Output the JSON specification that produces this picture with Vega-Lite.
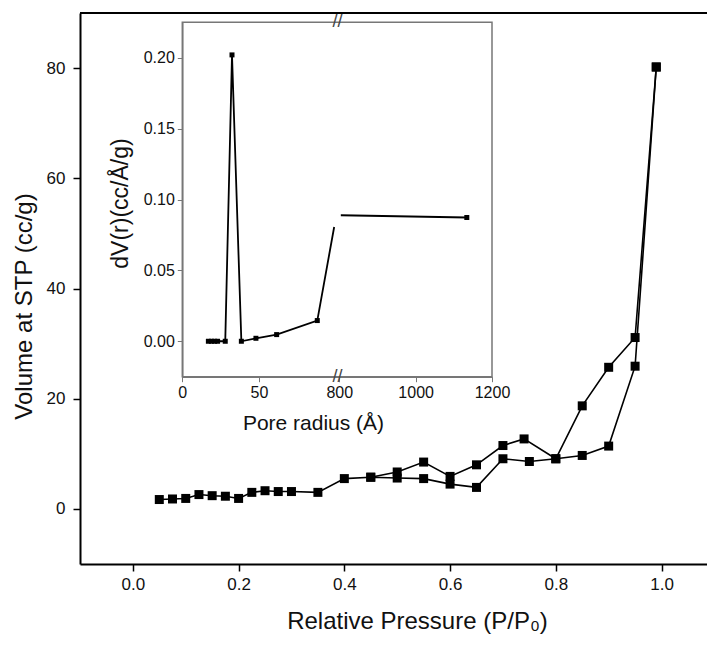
{
  "$schema": "https://vega.github.io/schema/vega-lite/v6.json",
  "width": 627,
  "height": 551,
  "autosize": {"type": "none"},
  "padding": {"left": 80, "top": 13, "right": 0, "bottom": 83},
  "background": "white",
  "config": {
    "view": {"stroke": null},
    "font": "Liberation Sans",
    "axis": {"labelFont": "Liberation Sans", "titleFont": "Liberation Sans", "grid": false, "titleFontWeight": "normal", "labelColor": "#111", "titleColor": "#111", "labelFlush": false}
  },
  "datasets": {
    "iso": [
      {"p": 0.05, "v": 1.7, "branch": "adsorption"},
      {"p": 0.075, "v": 1.8, "branch": "adsorption"},
      {"p": 0.1, "v": 1.9, "branch": "adsorption"},
      {"p": 0.125, "v": 2.6, "branch": "adsorption"},
      {"p": 0.15, "v": 2.4, "branch": "adsorption"},
      {"p": 0.175, "v": 2.3, "branch": "adsorption"},
      {"p": 0.2, "v": 1.9, "branch": "adsorption"},
      {"p": 0.225, "v": 3.0, "branch": "adsorption"},
      {"p": 0.25, "v": 3.3, "branch": "adsorption"},
      {"p": 0.275, "v": 3.15, "branch": "adsorption"},
      {"p": 0.3, "v": 3.15, "branch": "adsorption"},
      {"p": 0.35, "v": 3.0, "branch": "adsorption"},
      {"p": 0.4, "v": 5.5, "branch": "adsorption"},
      {"p": 0.45, "v": 5.75, "branch": "adsorption"},
      {"p": 0.5, "v": 5.6, "branch": "adsorption"},
      {"p": 0.55, "v": 5.5, "branch": "adsorption"},
      {"p": 0.6, "v": 4.5, "branch": "adsorption"},
      {"p": 0.65, "v": 3.9, "branch": "adsorption"},
      {"p": 0.7, "v": 9.1, "branch": "adsorption"},
      {"p": 0.75, "v": 8.6, "branch": "adsorption"},
      {"p": 0.8, "v": 9.1, "branch": "adsorption"},
      {"p": 0.85, "v": 9.7, "branch": "adsorption"},
      {"p": 0.9, "v": 11.4, "branch": "adsorption"},
      {"p": 0.95, "v": 25.9, "branch": "adsorption"},
      {"p": 0.99, "v": 80.2, "branch": "adsorption"},
      {"p": 0.45, "v": 5.75, "branch": "desorption"},
      {"p": 0.5, "v": 6.7, "branch": "desorption"},
      {"p": 0.55, "v": 8.5, "branch": "desorption"},
      {"p": 0.6, "v": 5.9, "branch": "desorption"},
      {"p": 0.65, "v": 8.0, "branch": "desorption"},
      {"p": 0.7, "v": 11.5, "branch": "desorption"},
      {"p": 0.74, "v": 12.7, "branch": "desorption"},
      {"p": 0.8, "v": 9.1, "branch": "desorption"},
      {"p": 0.85, "v": 18.7, "branch": "desorption"},
      {"p": 0.9, "v": 25.7, "branch": "desorption"},
      {"p": 0.95, "v": 31.1, "branch": "desorption"},
      {"p": 0.99, "v": 80.2, "branch": "desorption"}
    ],
    "psd": [
      {"r": 17, "dv": 0.0, "seg": "a", "kind": "measured"},
      {"r": 19, "dv": 0.0, "seg": "a", "kind": "measured"},
      {"r": 21, "dv": 0.0, "seg": "a", "kind": "measured"},
      {"r": 23, "dv": 0.0, "seg": "a", "kind": "measured"},
      {"r": 28, "dv": 0.0, "seg": "a", "kind": "measured"},
      {"r": 32.4, "dv": 0.202, "seg": "a", "kind": "measured"},
      {"r": 38.5, "dv": 0.0, "seg": "a", "kind": "measured"},
      {"r": 48, "dv": 0.0021, "seg": "a", "kind": "measured"},
      {"r": 61.5, "dv": 0.0047, "seg": "a", "kind": "measured"},
      {"r": 88, "dv": 0.0146, "seg": "a", "kind": "measured"},
      {"r": 99, "dv": 0.0806, "seg": "a", "kind": "clip"},
      {"r": 804, "dv": 0.0889, "seg": "b", "kind": "clip"},
      {"r": 1134, "dv": 0.0873, "seg": "b", "kind": "measured"}
    ]
  },
  "layer": [
    {
      "data": {"name": "iso"},
      "layer": [
        {
          "mark": {"type": "line", "color": "black", "strokeWidth": 1.6},
          "encoding": {
            "x": {"field": "p", "type": "quantitative",
              "scale": {"domain": [-0.1, 1.086], "nice": false, "zero": false},
              "axis": {"orient": "bottom", "values": [0, 0.2, 0.4, 0.6, 0.8, 1.0], "format": ".1f",
                "title": "Relative Pressure (P/P₀)", "titleFontSize": 24, "labelFontSize": 17,
                "tickSize": 7, "tickWidth": 1.5, "domainWidth": 2, "domainColor": "black", "tickColor": "black",
                "labelPadding": 5, "titleX": 337, "titleY": 64, "titleBaseline": "alphabetic", "titleAlign": "center"}},
            "y": {"field": "v", "type": "quantitative",
              "scale": {"domain": [-10, 90], "nice": false, "zero": false},
              "axis": {"orient": "left", "values": [0, 20, 40, 60, 80],
                "title": "Volume at STP (cc/g)", "titleFontSize": 24, "labelFontSize": 17,
                "tickSize": 7, "tickWidth": 1.5, "domainWidth": 2, "domainColor": "black", "tickColor": "black",
                "labelPadding": 8, "titleX": -49, "titleY": 293, "titleBaseline": "alphabetic", "titleAlign": "center"}},
            "detail": {"field": "branch"}
          }
        },
        {
          "mark": {"type": "point", "shape": "square", "filled": true, "color": "black", "size": 81, "opacity": 1},
          "encoding": {
            "x": {"field": "p", "type": "quantitative"},
            "y": {"field": "v", "type": "quantitative"}
          }
        },
        {
          "data": {"values": [{}]},
          "mark": {"type": "rule", "color": "black", "strokeWidth": 2},
          "encoding": {"y": {"datum": 90, "type": "quantitative", "title": "Volume at STP (cc/g)"}}
        }
      ]
    },
    {
      "data": {"name": "psd"},
      "layer": [
        {
          "data": {"values": [{}]},
          "mark": {"type": "rect", "fillOpacity": 0, "stroke": "#777", "strokeWidth": 1.5},
          "encoding": {
            "x": {"datum": 0, "type": "quantitative",
              "scale": {"domain": [0, 100, 800, 1200], "range": [102.3, 255.7, 259.3, 412], "nice": false, "zero": false},
              "axis": {"orient": "bottom", "offset": -187.3, "values": [0, 50, 800, 1000, 1200], "format": "d",
                "title": "Pore radius (Å)", "titleFontSize": 21, "labelFontSize": 16,
                "tickSize": 5, "labelPadding": 3, "domainColor": "#777", "tickColor": "#777", "domainWidth": 1.5,
                "labelFlush": false,
                "titleX": 233, "titleY": 53, "titleBaseline": "alphabetic", "titleAlign": "center"}},
            "x2": {"datum": 1200},
            "y": {"datum": -0.025, "type": "quantitative",
              "scale": {"domain": [-0.025, 0.225], "range": [363.7, 9.3], "nice": false, "zero": false},
              "axis": {"orient": "left", "offset": -102.3, "values": [0, 0.05, 0.1, 0.15, 0.2], "format": ".2f",
                "title": "dV(r)(cc/Å/g)", "titleFontSize": 23, "labelFontSize": 16,
                "tickSize": 5, "labelPadding": 3, "domainColor": "#777", "tickColor": "#777", "domainWidth": 1.5,
                "titleX": -55, "titleY": 190, "titleBaseline": "alphabetic", "titleAlign": "center"}},
            "y2": {"datum": 0.225}
          }
        },
        {
          "mark": {"type": "line", "color": "black", "strokeWidth": 1.8},
          "encoding": {
            "x": {"field": "r", "type": "quantitative"},
            "y": {"field": "dv", "type": "quantitative"},
            "detail": {"field": "seg"}
          }
        },
        {
          "transform": [{"filter": "datum.kind == 'measured'"}],
          "mark": {"type": "point", "shape": "square", "filled": true, "color": "black", "size": 25, "opacity": 1},
          "encoding": {
            "x": {"field": "r", "type": "quantitative"},
            "y": {"field": "dv", "type": "quantitative"}
          }
        },
        {
          "data": {"values": [{}]},
          "mark": {"type": "text", "text": "//", "fontSize": 18, "color": "#444", "baseline": "middle", "align": "center"},
          "encoding": {"x": {"datum": 450, "type": "quantitative"}, "y": {"datum": 0.225, "type": "quantitative"}}
        },
        {
          "data": {"values": [{}]},
          "mark": {"type": "text", "text": "//", "fontSize": 18, "color": "#444", "baseline": "middle", "align": "center"},
          "encoding": {"x": {"datum": 450, "type": "quantitative"}, "y": {"datum": -0.025, "type": "quantitative"}}
        }
      ]
    }
  ],
  "resolve": {"scale": {"x": "independent", "y": "independent"}, "axis": {"x": "independent", "y": "independent"}}
}
